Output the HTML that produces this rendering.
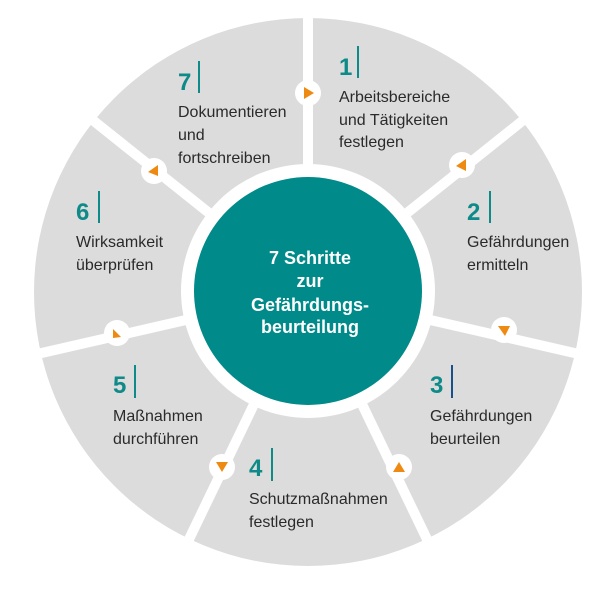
<!DOCTYPE html>
<html><head><meta charset="utf-8"><style>
html,body{margin:0;padding:0;background:#fff;}
svg{display:block;}
.n{font-family:"Liberation Sans Narrow","Liberation Sans",sans-serif;font-weight:bold;font-size:24px;fill:#0e8a88;}
.t{font-family:"Liberation Sans Narrow","Liberation Sans",sans-serif;font-size:16px;fill:#2a2a2a;}
.c{font-family:"Liberation Sans Narrow","Liberation Sans",sans-serif;font-weight:bold;font-size:18px;fill:#fff;}
</style></head><body>
<svg width="615" height="590" viewBox="0 0 615 590" xmlns="http://www.w3.org/2000/svg">
<circle cx="308" cy="292" r="274" fill="#dcdcdc"/>
<g stroke="#fff" stroke-width="10">
<g transform="translate(308,292)">
<line x1="0" y1="0" x2="0" y2="-290" transform="rotate(0)"/>
<line x1="0" y1="0" x2="0" y2="-290" transform="rotate(51.4)"/>
<line x1="0" y1="0" x2="0" y2="-290" transform="rotate(102.9)"/>
<line x1="0" y1="0" x2="0" y2="-290" transform="rotate(154.3)"/>
<line x1="0" y1="0" x2="0" y2="-290" transform="rotate(205.7)"/>
<line x1="0" y1="0" x2="0" y2="-290" transform="rotate(257.1)"/>
<line x1="0" y1="0" x2="0" y2="-290" transform="rotate(308.6)"/>
</g></g>
<circle cx="308" cy="291" r="127" fill="#fff"/>
<circle cx="308" cy="291" r="114" fill="#008a8a"/>
<g fill="#fff">
<circle cx="308" cy="93" r="13"/>
<circle cx="462" cy="165" r="13"/>
<circle cx="504" cy="330" r="13"/>
<circle cx="399" cy="467" r="13"/>
<circle cx="222" cy="467" r="13"/>
<circle cx="117" cy="333" r="13"/>
<circle cx="154" cy="171" r="13"/>
</g>
<g fill="#ee8a12">
<polygon points="304,87 314,93 304,99"/>
<polygon points="466,159 466,171 456,166"/>
<polygon points="498,326 510,326 505,336"/>
<polygon points="393,472 405,472 399,462"/>
<polygon points="216,462 228,462 222,472"/>
<polygon points="113,329 121,337 113,338"/>
<polygon points="158,165 158,176 148,172"/>
</g>
<g fill="#0e8a88">
<rect x="357" y="46" width="2" height="32"/>
<rect x="198" y="61" width="2" height="32"/>
<rect x="489" y="191" width="2" height="32"/>
<rect x="98" y="191" width="2" height="32"/>
<rect x="451" y="365" width="2" height="33" fill="#1a4f8a"/>
<rect x="134" y="365" width="2" height="33"/>
<rect x="271" y="448" width="2" height="33"/>
</g>
<text class="n" x="339" y="75">1</text>
<text class="t" x="339" y="102">Arbeitsbereiche</text>
<text class="t" x="339" y="125">und Tätigkeiten</text>
<text class="t" x="339" y="147">festlegen</text>
<text class="n" x="178" y="90">7</text>
<text class="t" x="178" y="117">Dokumentieren</text>
<text class="t" x="178" y="140">und</text>
<text class="t" x="178" y="163">fortschreiben</text>
<text class="n" x="467" y="220">2</text>
<text class="t" x="467" y="247">Gefährdungen</text>
<text class="t" x="467" y="270">ermitteln</text>
<text class="n" x="76" y="220">6</text>
<text class="t" x="76" y="247">Wirksamkeit</text>
<text class="t" x="76" y="270">überprüfen</text>
<text class="n" x="430" y="393">3</text>
<text class="t" x="430" y="421">Gefährdungen</text>
<text class="t" x="430" y="444">beurteilen</text>
<text class="n" x="113" y="393">5</text>
<text class="t" x="113" y="421">Maßnahmen</text>
<text class="t" x="113" y="444">durchführen</text>
<text class="n" x="249" y="476">4</text>
<text class="t" x="249" y="504">Schutzmaßnahmen</text>
<text class="t" x="249" y="527">festlegen</text>
<g text-anchor="middle">
<text class="c" x="310" y="264">7 Schritte</text>
<text class="c" x="310" y="287">zur</text>
<text class="c" x="310" y="311">Gefährdungs-</text>
<text class="c" x="310" y="333">beurteilung</text>
</g>
</svg>
</body></html>
